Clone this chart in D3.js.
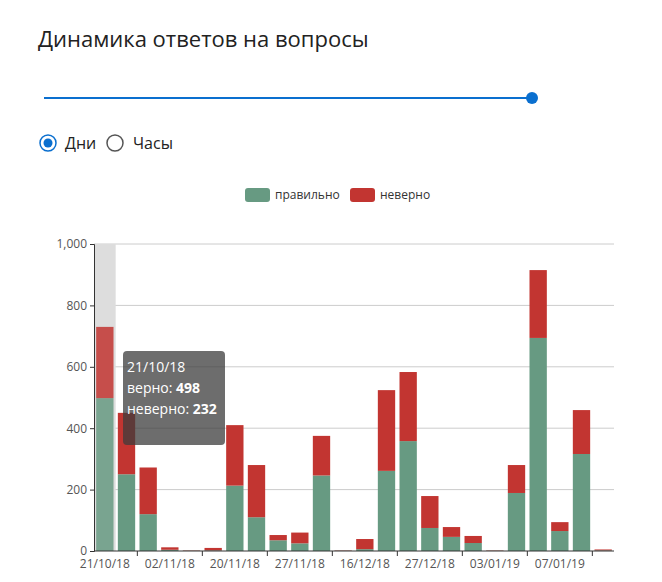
<!DOCTYPE html>
<html>
<head>
<meta charset="utf-8">
<script src="https://cdn.jsdelivr.net/npm/d3@7"></script>
<style>
  body { margin: 0; background: #fff; font-family: "Open Sans", "Segoe UI", sans-serif; }
  svg text { font-family: "Open Sans", sans-serif; }
</style>
</head>
<body>
<svg id="chart" width="662" height="582"></svg>
<script>
'use strict';

const dates = ['21/10/18', '', '', '02/11/18', '', '', '20/11/18', '', '', '27/11/18', '', '',
               '16/12/18', '', '', '27/12/18', '', '', '03/01/19', '', '', '07/01/19', '', ''];
const correct = [498, 250, 120, 4, 1, 2, 213, 110, 35, 25, 246, 1, 6, 261, 358, 75, 46, 26, 1, 189, 694, 65, 316, 2];
const wrong = [232, 200, 152, 8, 1, 8, 197, 170, 17, 35, 129, 1, 33, 263, 225, 104, 32, 23, 1, 91, 221, 29, 143, 3];
const yTicks = [0, 200, 400, 600, 800, 1000];
const seriesNames = ['правильно', 'неверно'];
const colors = ['#679a82', '#c23531'];
const hovered = 0;

const svg = d3.select('#chart');

// header
svg.append('text').attr('x', 38).attr('y', 47).attr('font-size', 22).attr('fill', '#222')
    .style('font-family', '"Open Sans", sans-serif').text('Динамика ответов на вопросы');

svg.append('line').attr('x1', 44).attr('x2', 532).attr('y1', 98).attr('y2', 98)
    .attr('stroke', '#0a6fcf').attr('stroke-width', 2);
svg.append('circle').attr('cx', 532).attr('cy', 98).attr('r', 6).attr('fill', '#0a6fcf');

// radios
svg.append('circle').attr('cx', 48).attr('cy', 143).attr('r', 8).attr('fill', 'none').attr('stroke', '#0a6fcf').attr('stroke-width', 1.5);
svg.append('circle').attr('cx', 48).attr('cy', 143).attr('r', 4.5).attr('fill', '#0a6fcf');
svg.append('text').attr('x', 65).attr('y', 149).attr('font-size', 16).attr('fill', '#222').text('Дни');
svg.append('circle').attr('cx', 115).attr('cy', 143).attr('r', 8).attr('fill', 'none').attr('stroke', '#555').attr('stroke-width', 1.5);
svg.append('text').attr('x', 133).attr('y', 149).attr('font-size', 16).attr('fill', '#222').text('Часы');

// legend
const legend = svg.append('g').attr('font-size', 12).attr('fill', '#333');
const legendX = [245, 350];
seriesNames.forEach((n, i) => {
  legend.append('rect').attr('x', legendX[i]).attr('y', 188).attr('width', 25).attr('height', 14)
      .attr('rx', 3).attr('fill', colors[i]);
  legend.append('text').attr('x', legendX[i] + 30).attr('y', 199).attr('fill', '#333').text(n);
});

// scales
const x = d3.scaleBand().domain(d3.range(correct.length)).range([94, 614]).paddingInner(0.2).paddingOuter(0.1);
const y = d3.scaleLinear().domain([0, 1000]).range([551, 244]);

// grid
svg.append('g').selectAll('line').data(yTicks.slice(1)).join('line')
    .attr('x1', 94).attr('x2', 614).attr('y1', d => y(d)).attr('y2', d => y(d))
    .attr('stroke', '#ccc');

// hover shadow
const step = x.step();
svg.append('rect').attr('x', 94 + step * hovered).attr('y', y(1000)).attr('width', step)
    .attr('height', y(0) - y(1000)).attr('fill', '#ddd');

// bars
const g = svg.append('g');
correct.forEach((c, i) => {
  const op = i === hovered ? 0.85 : 1;
  g.append('rect').attr('x', x(i)).attr('width', x.bandwidth())
      .attr('y', y(c)).attr('height', y(0) - y(c)).attr('fill', colors[0]).attr('opacity', op);
  g.append('rect').attr('x', x(i)).attr('width', x.bandwidth())
      .attr('y', y(c + wrong[i])).attr('height', y(c) - y(c + wrong[i])).attr('fill', colors[1]).attr('opacity', op);
});

// y axis
const yAxis = svg.append('g').attr('transform', 'translate(94,0)')
    .call(d3.axisLeft(y).tickValues(yTicks).tickSize(4).tickFormat(d3.format(',')));
yAxis.selectAll('text').attr('fill', '#555').attr('font-size', 12);
yAxis.selectAll('line, path').attr('stroke', '#333');

// x axis
const xg = svg.append('g');
xg.append('line').attr('x1', 94).attr('x2', 614).attr('y1', 551).attr('y2', 551).attr('stroke', '#333');
d3.range(2, correct.length, 3).forEach(i => {
  const bx = 94 + step * i;
  xg.append('line').attr('x1', bx).attr('x2', bx).attr('y1', 551).attr('y2', 556).attr('stroke', '#333');
});
dates.forEach((d, i) => {
  if (!d) return;
  xg.append('text').attr('x', 94 + step * (i + 0.5)).attr('y', 568).attr('text-anchor', 'middle')
      .attr('font-size', 12).attr('fill', '#555').text(d);
});

// tooltip
const tip = svg.append('g').attr('transform', 'translate(123,351)');
tip.append('rect').attr('width', 102).attr('height', 94).attr('rx', 4).attr('fill', 'rgba(60,60,60,0.75)');
tip.append('text').attr('x', 4).attr('y', 21).attr('font-size', 14).attr('fill', '#fff').text(dates[hovered]);
const t2 = tip.append('text').attr('x', 4).attr('y', 42).attr('font-size', 14).attr('fill', '#fff');
t2.append('tspan').text('верно: ');
t2.append('tspan').attr('font-weight', 'bold').text(correct[hovered]);
const t3 = tip.append('text').attr('x', 4).attr('y', 63).attr('font-size', 14).attr('fill', '#fff');
t3.append('tspan').text('неверно: ');
t3.append('tspan').attr('font-weight', 'bold').text(wrong[hovered]);
</script>
</body>
</html>
